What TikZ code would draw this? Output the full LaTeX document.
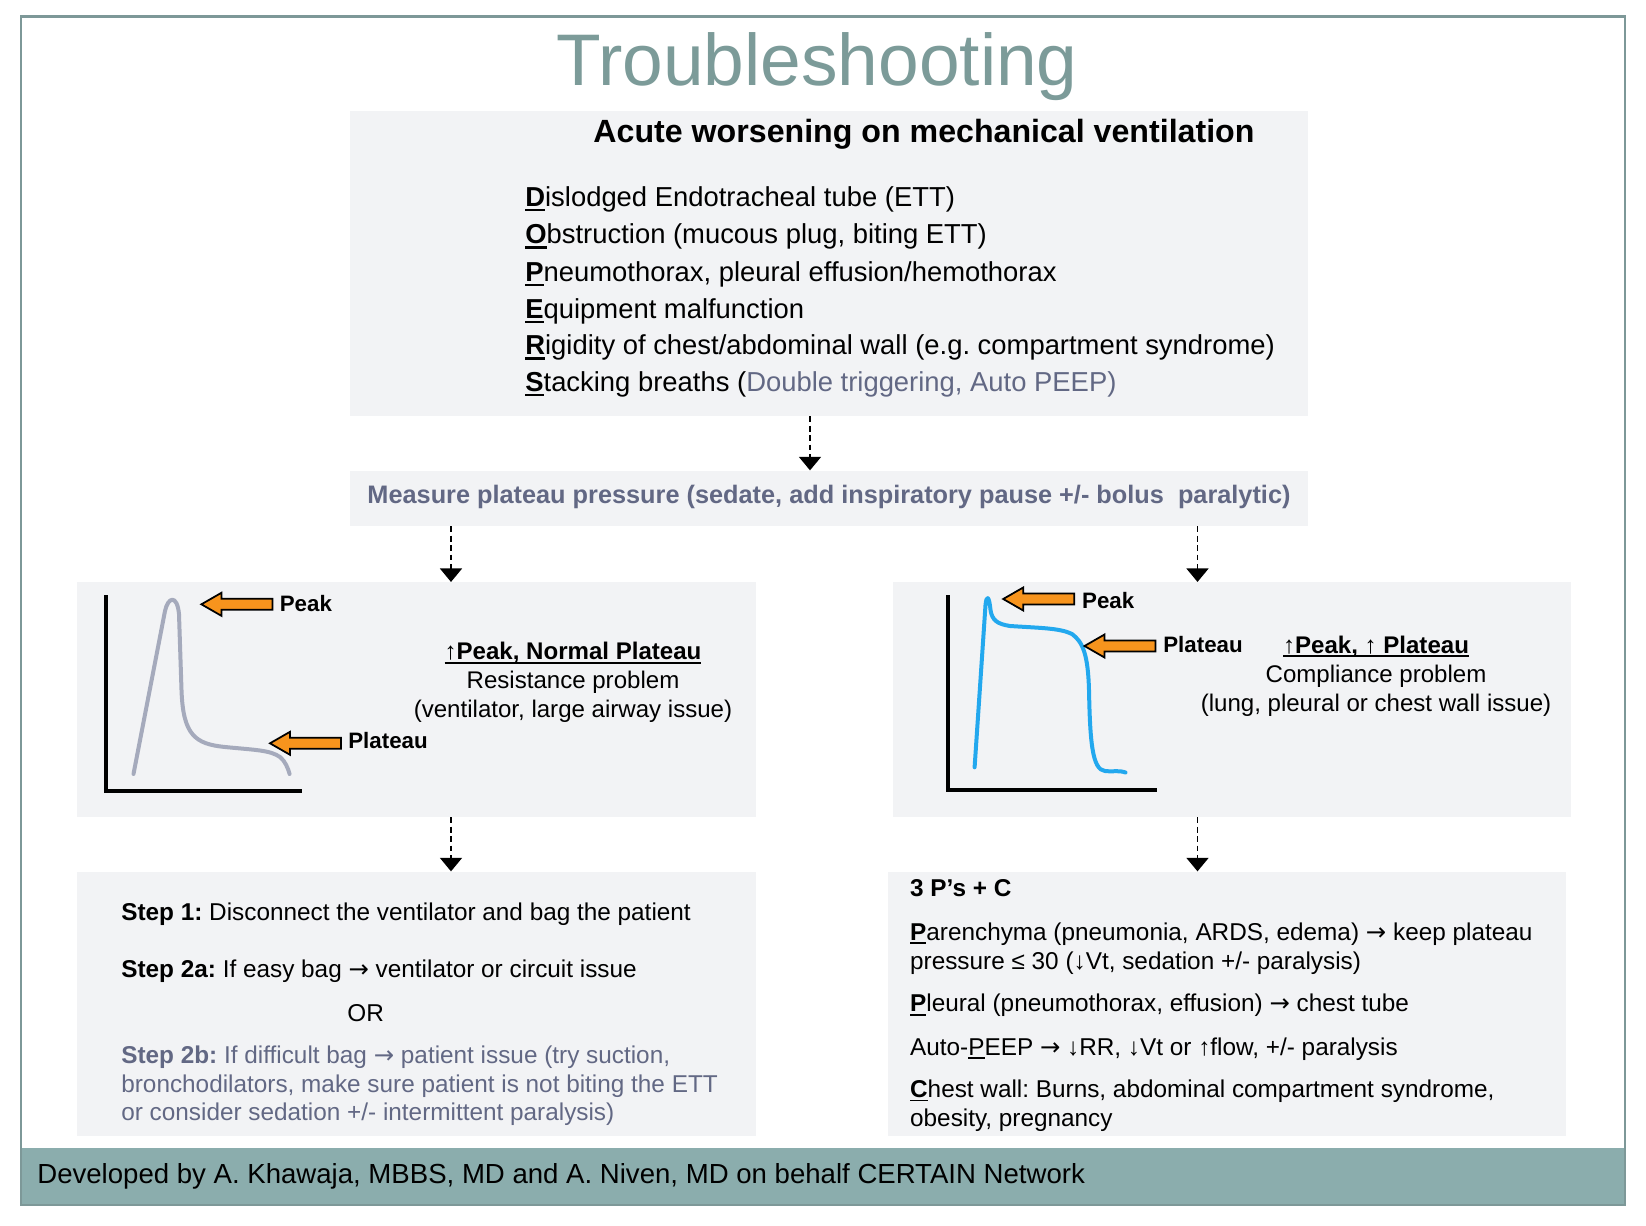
\documentclass[tikz,border=0pt]{standalone}
\usepackage{fontspec}
\setmainfont{Liberation Sans}
\newfontfamily\symf{DejaVu Sans}
\usetikzlibrary{arrows.meta,fit}

\definecolor{titlecol}{RGB}{124,155,153}
\definecolor{framecol}{RGB}{125,152,152}
\definecolor{footcol}{RGB}{139,173,173}
\definecolor{boxgray}{RGB}{242,243,245}
\definecolor{slate}{RGB}{98,104,132}
\definecolor{arrorange}{RGB}{247,148,29}
\definecolor{curvegray}{RGB}{165,170,188}
\definecolor{curveblue}{RGB}{35,168,238}

% underline with a heavier rule
\newcommand{\ulin}[1]{\leavevmode\setbox0=\hbox{#1}\rlap{\rule[-0.17em]{\wd0}{0.08em}}\box0}
\newcommand{\ra}{{\symf →}}
\frenchspacing

\begin{document}
\begin{tikzpicture}[x=0.02cm, y=-0.02cm,
    box/.style={fill=boxgray, inner sep=0pt},
    flow/.style={line width=0.9pt, dash pattern=on 3.4pt off 2pt, -{Triangle[width=0.44cm,length=0.27cm]}},
    txt/.style={inner sep=0pt, anchor=base west, font=\fontsize{13.85}{16}\selectfont},
    mid/.style={inner sep=0pt, anchor=base, font=\fontsize{13.7}{16}\selectfont},
    dopers/.style={inner sep=0pt, anchor=base west, font=\fontsize{15.6}{19}\selectfont},
    tag/.style={inner sep=0pt, anchor=base west, font=\bfseries\fontsize{12.7}{15}\selectfont},
    pointer/.style={fill=arrorange, draw=black, line width=1pt, line join=miter},
    axis/.style={line width=0.09cm},
    wave/.style={line width=0.08cm, line cap=round, line join=round}]

    \useasboundingbox (0,0) rectangle (1646,1226);

    % frame and footer
    \node[fill=footcol, inner sep=0pt, fit={(21,1147.5) (1625,1205)}] (footer) {};
    \draw[framecol, line width=1.2pt] (21,16.5) rectangle (1625,1205);
    \node[inner sep=0pt, anchor=base west, font=\fontsize{15.7}{18}\selectfont] (credit) at (37,1183) {Developed by A. Khawaja, MBBS, MD and A. Niven, MD on behalf CERTAIN Network};

    \node[inner sep=0pt, anchor=base, text=titlecol, font=\fontsize{41.6}{48}\selectfont] (title) at (817,86) {Troubleshooting};

    % boxes
    \node[box, fit={(350,111) (1307.5,415.7)}] (causes) {};
    \node[box, fit={(350,470.7) (1308,525.7)}] (measure) {};
    \node[box, fit={(77.4,582.3) (755.6,816.7)}] (resist) {};
    \node[box, fit={(893.4,582.3) (1571,816.7)}] (comply) {};
    \node[box, fit={(77.4,871.7) (755.6,1136)}] (bagging) {};
    \node[box, fit={(887.8,871.7) (1565.5,1136)}] (threeps) {};

    % DOPES list
    \node[inner sep=0pt, anchor=base, font=\bfseries\fontsize{18.3}{22}\selectfont] (acute) at (924,142.7) {Acute worsening on mechanical ventilation};
    \node[dopers] (d) at (525,206.7) {\ulin{\textbf{D}}islodged Endotracheal tube (ETT)};
    \node[dopers] (o) at (525,244) {\ulin{\textbf{O}}bstruction (mucous plug, biting ETT)};
    \node[dopers] (p) at (525,281.7) {\ulin{\textbf{P}}neumothorax, pleural effusion/hemothorax};
    \node[dopers] (e) at (525,318.3) {\ulin{\textbf{E}}quipment malfunction};
    \node[dopers] (r) at (525,355) {\ulin{\textbf{R}}igidity of chest/abdominal wall (e.g. compartment syndrome)};
    \node[dopers] (s) at (525,391.7) {\ulin{\textbf{S}}tacking breaths (\textcolor{slate}{Double triggering, Auto PEEP)}};

    \node[inner sep=0pt, anchor=base, text=slate, font=\bfseries\fontsize{14.4}{17}\selectfont] (plat) at (829,503) {Measure plateau pressure (sedate, add inspiratory pause +/- bolus \ paralytic)};

    % waveforms
    \draw[axis] (106,595) -- (106,791) -- (302.4,791);
    \draw[wave, curvegray] (133.5,774) -- (165,611) .. controls (168,597) and (177,594) .. (179,614)
        -- (181.5,690) .. controls (183,735) and (195,744) .. (225,747)
        .. controls (255,750) and (270,750) .. (280,757) .. controls (285,761) and (288,768) .. (289.6,774);
    \draw[axis] (947.9,595) -- (947.9,790) -- (1156.8,790);
    \draw[wave, curveblue] (974.6,767.3) -- (985.5,605) .. controls (986.5,595) and (989,595) .. (990.5,610)
        .. controls (992,620) and (997,624) .. (1010,626) .. controls (1040,628) and (1060,628) .. (1072,634)
        .. controls (1083,642) and (1088,655) .. (1089,690) .. controls (1090,740) and (1092,770) .. (1105,771)
        .. controls (1115,772) and (1118,770) .. (1125.5,772.5);

    \foreach \tx/\ty in {201.4/604.3, 270/743.3, 1003.2/599, 1084.5/646}
        \draw[pointer] (\tx,\ty) -- ++(20,-11.5) -- ++(0,6) -- ++(51,0) -- ++(0,11) -- ++(-51,0) -- ++(0,6) -- cycle;

    \node[tag] (peakL) at (279.5,611) {Peak};
    \node[tag] (platL) at (348,748.5) {Plateau};
    \node[tag] (peakR) at (1081.8,608) {Peak};
    \node[tag] (platR) at (1163,652) {Plateau};

    \node[mid] (resHead) at (573,659.5) {\ulin{\textbf{↑Peak, Normal Plateau}}};
    \node[mid] (resProb) at (573,688.5) {Resistance problem};
    \node[mid] (resWhy) at (573,717.5) {(ventilator, large airway issue)};
    \node[mid] (comHead) at (1376,653) {\ulin{\textbf{↑Peak, ↑ Plateau}}};
    \node[mid] (comProb) at (1376,682) {Compliance problem};
    \node[mid] (comWhy) at (1376,711) {(lung, pleural or chest wall issue)};

    % steps
    \node[txt] (step1) at (121,920) {\textbf{Step 1:} Disconnect the ventilator and bag the patient};
    \node[txt] (step2a) at (121,977.3) {\textbf{Step 2a:} If easy bag \ra{} ventilator or circuit issue};
    \node[txt] (orr) at (347,1021.7) {OR};
    \node[txt, text=slate] (step2b) at (121,1063.5) {\textbf{Step 2b:} If difficult bag \ra{} patient issue (try suction,};
    \node[txt, text=slate] (step2bb) at (121,1092) {bronchodilators, make sure patient is not biting the ETT};
    \node[txt, text=slate] (step2bc) at (121,1120.5) {or consider sedation +/- intermittent paralysis)};

    % 3 P's + C
    \node[txt] (pc) at (909.8,896.7) {\textbf{3 P’s + C}};
    \node[txt] (paren) at (909.8,940) {\ulin{\textbf{P}}arenchyma (pneumonia, ARDS, edema) \ra{} keep plateau};
    \node[txt] (parenb) at (909.8,969.3) {pressure ≤ 30 (↓Vt, sedation +/- paralysis)};
    \node[txt] (pleu) at (909.8,1011.7) {\ulin{\textbf{P}}leural (pneumothorax, effusion) \ra{} chest tube};
    \node[txt] (peep) at (909.8,1055) {Auto-\ulin{P}EEP \ra{} ↓RR, ↓Vt or ↑flow, +/- paralysis};
    \node[txt] (chest) at (909.8,1097.3) {\ulin{\textbf{C}}hest wall: Burns, abdominal compartment syndrome,};
    \node[txt] (chestb) at (909.8,1126.7) {obesity, pregnancy};

    % connectors
    \coordinate (xc) at (810,0);
    \coordinate (xl) at (451,0);
    \coordinate (xr) at (1197.5,0);
    \draw[flow] (causes.south -| xc) -- (measure.north -| xc);
    \draw[flow] (measure.south -| xl) -- (resist.north -| xl);
    \draw[flow] (measure.south -| xr) -- (comply.north -| xr);
    \draw[flow] (resist.south -| xl) -- (bagging.north -| xl);
    \draw[flow] (comply.south -| xr) -- (threeps.north -| xr);

\end{tikzpicture}
\end{document}
